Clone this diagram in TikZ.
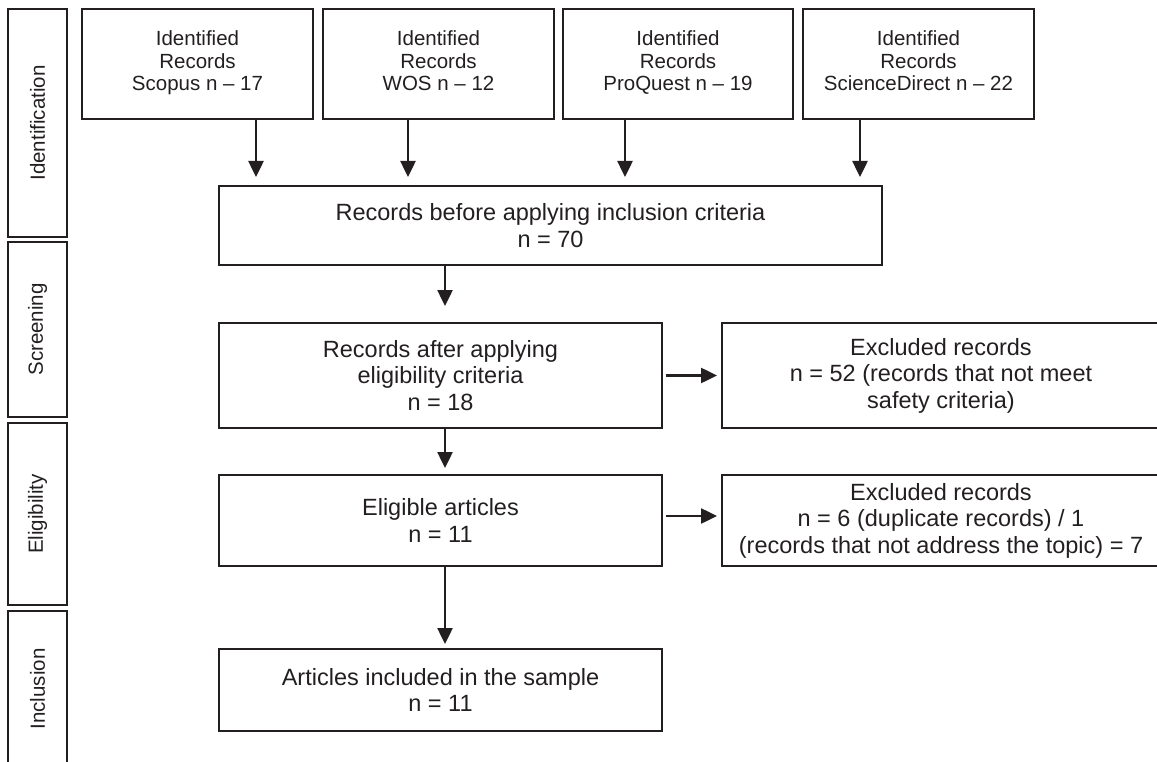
\documentclass[tikz,border=0pt]{standalone}
\usepackage{fontspec}
\setmainfont{Liberation Sans}
\usepackage{tikz}
\usetikzlibrary{positioning,arrows.meta}
\usepackage{xcolor}
\definecolor{ink}{HTML}{231F20}

\begin{document}
\begin{tikzpicture}[x=1pt,y=-1pt,
    box/.style={draw=ink, line width=2pt, align=center, inner sep=0pt, text=ink,
        font=\fontsize{23.5}{26.5}\selectfont},
    srcbox/.style={box, minimum width=231pt, minimum height=110pt,
        font=\fontsize{20.5}{22.3}\selectfont},
    phase/.style={draw=ink, line width=2pt, inner sep=0pt, text=ink, rotate=90,
        minimum height=59pt, font=\fontsize{20.5}{22.3}\selectfont},
    arr/.style={draw=ink, line width=2.5pt, -{Triangle[length=16pt,width=15pt]}}]
                \path[use as bounding box, clip] (0,0) rectangle (1157,762);

                % Phase bars
                \node[phase, minimum width=228pt] (identification) at (37.5,123) {Identification};
                \node[phase, minimum width=175pt] (screening) at (37.5,329.5) {Screening};
                \node[phase, minimum width=182pt] (eligibility) at (37.5,514) {Eligibility};
                \node[phase, minimum width=156pt] (inclusion) at (37.5,689) {Inclusion};

                % Identified records per database
                \node[srcbox] (scopus) at (197.5,64) {Identified\\Records\\Scopus n – 17\strut};
                \node[srcbox] (wos) at (438.5,64) {Identified\\Records\\WOS n – 12\strut};
                \node[srcbox, minimum width=230pt] (proquest) at (678,64) {Identified\\Records\\ProQuest n – 19\strut};
                \node[srcbox] (sciencedirect) at (918.5,64) {Identified\\Records\\ScienceDirect n – 22\strut};

                % Records before inclusion criteria
                \node[box, minimum width=663pt, minimum height=79pt] (before) at (550.5,225.5)
                    {Records before applying inclusion criteria\\n = 70};

                % Arrows into the records box
                \draw[arr, shorten >=8pt] ([xshift=58.5pt]scopus.south) -- ([xshift=58.5pt]scopus.south |- before.north);
                \draw[arr, shorten >=8pt] ([xshift=-30.5pt]wos.south) -- ([xshift=-30.5pt]wos.south |- before.north);
                \draw[arr, shorten >=8pt] ([xshift=-53pt]proquest.south) -- ([xshift=-53pt]proquest.south |- before.north);
                \draw[arr, shorten >=8pt] ([xshift=-58.5pt]sciencedirect.south) -- ([xshift=-58.5pt]sciencedirect.south |- before.north);

                % Screening
                \node[box, minimum width=443pt, minimum height=105pt] (after) at (440.5,375.5)
                    {Records after applying\\eligibility criteria\\n = 18};
                \node[box, minimum width=438pt, minimum height=105pt] (excluded1) at (941,375.5)
                    {Excluded records\\n = 52 (records that not meet\\safety criteria)};

                % Eligibility
                \node[box, minimum width=443pt, minimum height=91pt] (eligible) at (440.5,520.5)
                    {Eligible articles\\n = 11};
                \node[box, minimum width=438pt, minimum height=91pt] (excluded2) at (941,520.5)
                    {Excluded records\\n = 6 (duplicate records) / 1\\(records that not address the topic) = 7};

                % Inclusion
                \node[box, minimum width=443pt, minimum height=82pt] (included) at (440.5,690)
                    {Articles included in the sample\\n = 11};

                % Main flow
                \draw[arr, shorten >=16pt] ([xshift=4.5pt]after.north |- before.south) -- ([xshift=4.5pt]after.north);
                \draw[arr, shorten >=6pt] ([xshift=4.5pt]after.south) -- ([xshift=4.5pt]eligible.north);
                \draw[arr, shorten >=4pt] ([xshift=4.5pt]eligible.south) -- ([xshift=4.5pt]included.north);

                % Exclusions
                \draw[arr, shorten <=3pt, shorten >=4pt] (after.east) -- (excluded1.west);
                \draw[arr, shorten <=3pt, shorten >=4pt] ([yshift=4.5pt]eligible.east) -- ([yshift=4.5pt]excluded2.west);
            \end{tikzpicture}
\end{document}
